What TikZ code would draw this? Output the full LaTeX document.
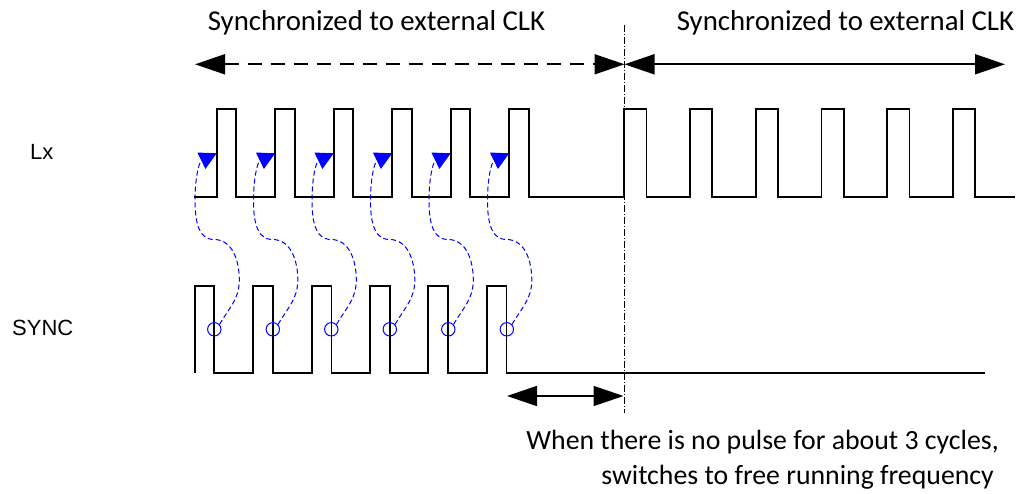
\documentclass[tikz,border=0pt]{standalone}
\usepackage{fontspec}
\setmainfont{Carlito}
\newfontfamily\arialf{Liberation Sans}
\usetikzlibrary{arrows.meta}
\tikzset{
  wave/.style={line width=1.7pt, line join=miter},
  bigarrow/.style={line width=1.8pt, {Triangle[length=30pt,width=20pt]}-{Triangle[length=30pt,width=20pt]}},
  syncarrow/.style={blue, line width=1pt, dash pattern=on 5pt off 3pt, -{Triangle[length=17pt,width=18pt]}},
  mark circle/.style={blue, line width=1pt},
  divider/.style={line width=0.7pt, dash pattern=on 7pt off 2pt on 1pt off 2pt},
  caption/.style={font=\fontsize{28.8}{34}\selectfont, inner sep=0pt},
  note/.style={font=\fontsize{27.8}{34}\selectfont, inner sep=0pt},
  siglabel/.style={font=\arialf\fontsize{22}{26}\selectfont, inner sep=0pt, anchor=base west},
}
\begin{document}
\begin{tikzpicture}[x=1pt,y=1pt]
\useasboundingbox (0,0) rectangle (1018,493);

% labels
\node[caption, anchor=base] (t1) at (376.5,462) {Synchronized to external CLK};
\node[caption, anchor=base] (t2) at (845.5,462) {Synchronized to external CLK};
\node[siglabel] (lx) at (30,333.7) {Lx};
\node[siglabel] (sync) at (12,157) {SYNC};
\node[note, anchor=base east] (b1) at (999,43.7) {When there is no pulse for about 3 cycles,};
\node[note, anchor=base east] (b2) at (994,9) {switches to free running frequency};

% divider
\coordinate (dtop) at (624.5,468);
\coordinate (dbot) at (624.5,80);
\draw[divider] (dtop) -- (dbot);

% top arrows
\coordinate (aL) at (195,428.7);
\coordinate (aM) at (624.5,428.7);
\coordinate (aR) at (1005,428.7);
\draw[bigarrow, dash pattern=on 14pt off 9pt] (aL) -- (aM);
\draw[bigarrow] (aM) -- (aR);

% bottom arrow
\coordinate (bL) at (507,97);
\coordinate (bR) at (623.5,97);
\draw[bigarrow] (bL) -- (bR);

% Lx waveform
\draw[wave] (194,296)
  foreach \x in {216.7,275.2,333.7,392.2,450.7,509.2} { -- (\x,296) -- (\x,384) -- ++(19.5,0) -- ++(0,-88) }
  foreach \x in {624.3,690,755.7,821.4,887.1,952.8} { -- (\x,296) -- (\x,384) -- ++(22.3,0) -- ++(0,-88) }
  -- (1015,296);

% SYNC waveform
\draw[wave] (195,119.7) -- (195,207.3) -- (214.3,207.3) -- (214.3,119.7)
  foreach \x in {253.3,311.7,370,428.3,486.7} { -- (\x,119.7) -- (\x,207.3) -- ++(19.8,0) -- ++(0,-87.6) }
  -- (985,119.7);

% sync arrows
\foreach \k in {0,...,5} {
  \begin{scope}[xshift=\k*58.5]
    \draw[mark circle] (214.3,163.7) circle[radius=6.7];
    \draw[syncarrow] (219.5,168.5) to[out=60,in=-90] (239.3,213) to[out=90,in=0] (214,253.5)
       to[out=180,in=-90] (195,293) to[out=90,in=206] (216.7,339.7);
  \end{scope}
}
\end{tikzpicture}
\end{document}
